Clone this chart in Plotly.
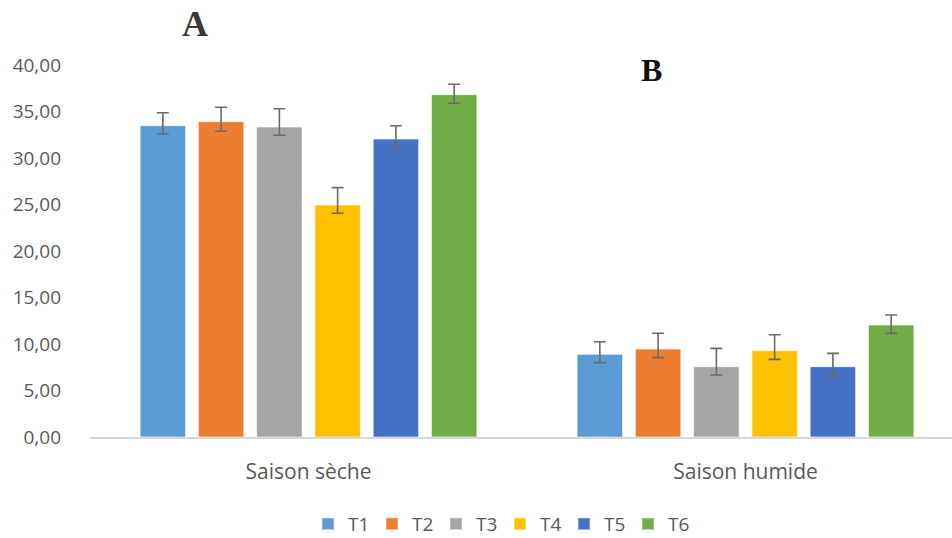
import plotly.graph_objects as go

# Saisons et traitements
saisons = ["Saison sèche", "Saison humide"]
traitements = ["T1", "T2", "T3", "T4", "T5", "T6"]
couleurs = ["#5B9BD5", "#ED7D31", "#A5A5A5", "#FFC000", "#4472C4", "#70AD47"]

# Moyennes par traitement : [saison sèche, saison humide]
moyennes = {
    "T1": [33.47, 8.89],
    "T2": [33.90, 9.46],
    "T3": [33.33, 7.56],
    "T4": [24.95, 9.28],
    "T5": [32.04, 7.56],
    "T6": [36.81, 12.04],
}
# Barres d'erreur (au-dessus / en dessous)
err_haut = {
    "T1": [1.40, 1.36],
    "T2": [1.55, 1.69],
    "T3": [1.97, 1.97],
    "T4": [1.86, 1.72],
    "T5": [1.43, 1.43],
    "T6": [1.12, 1.08],
}
err_bas = {
    "T1": [0.89, 0.90],
    "T2": [1.03, 0.93],
    "T3": [0.89, 0.90],
    "T4": [0.89, 0.93],
    "T5": [1.08, 1.04],
    "T6": [0.92, 0.90],
}
y_ticks = [0, 5, 10, 15, 20, 25, 30, 35, 40]

fig = go.Figure()
for t, c in zip(traitements, couleurs):
    fig.add_trace(go.Bar(
        name=t,
        x=saisons,
        y=moyennes[t],
        marker=dict(color=c, line=dict(color="rgba(255,255,255,0.6)", width=1)),
        error_y=dict(
            type="data", symmetric=False,
            array=err_haut[t], arrayminus=err_bas[t],
            color="#6b6b6b", thickness=1.6, width=6,
        ),
    ))

W, H = 952, 538
ml, mt, mb = 90, 65, 101
plot_w = W - ml
plot_h = H - mt - mb
police = "Open Sans, Lato, sans-serif"

fig.update_layout(
    width=W, height=H,
    margin=dict(l=ml, r=0, t=mt, b=mb, pad=0, autoexpand=False),
    paper_bgcolor="white", plot_bgcolor="white",
    barmode="group", bargap=0.2, bargroupgap=0.22,
    separators=", ",
    font=dict(family=police, size=19, color="#595959"),
    showlegend=True,
    legend=dict(
        orientation="h", x=(500 - ml) / plot_w, xanchor="center",
        y=-(524 - (mt + plot_h)) / plot_h, yanchor="middle",
        font=dict(family=police, size=19, color="#595959"),
        entrywidth=19, entrywidthmode="pixels", itemwidth=30,
        bgcolor="rgba(0,0,0,0)",
    ),
)

fig.update_xaxes(
    type="category",
    range=[-0.5, -0.5 + plot_w / 437.0],
    showline=True, linecolor="#d9d9d9", linewidth=1.5,
    showgrid=False, ticks="", ticklabelstandoff=15, automargin=False,
    tickfont=dict(family=police, size=21, color="#595959"),
)
fig.update_yaxes(
    range=[0, 40], tickvals=y_ticks, tickformat=".2f",
    showgrid=False, showline=False, zeroline=False, automargin=False,
    ticks="", ticklabelstandoff=28,
    tickfont=dict(family=police, size=19, color="#595959"),
)

fig.add_annotation(
    text="<b>A</b>", xref="paper", yref="paper",
    x=(195 - ml) / plot_w, y=1 + (mt - 24) / plot_h,
    xanchor="center", yanchor="middle", showarrow=False,
    font=dict(family="Liberation Serif, Times New Roman, serif", size=36, color="#3a3a3a"),
)
fig.add_annotation(
    text="<b>B</b>", xref="paper", yref="paper",
    x=(651 - ml) / plot_w, y=1 - (70 - mt) / plot_h,
    xanchor="center", yanchor="middle", showarrow=False,
    font=dict(family="Liberation Serif, Times New Roman, serif", size=32, color="#111111"),
)

fig.write_html("out.html")
